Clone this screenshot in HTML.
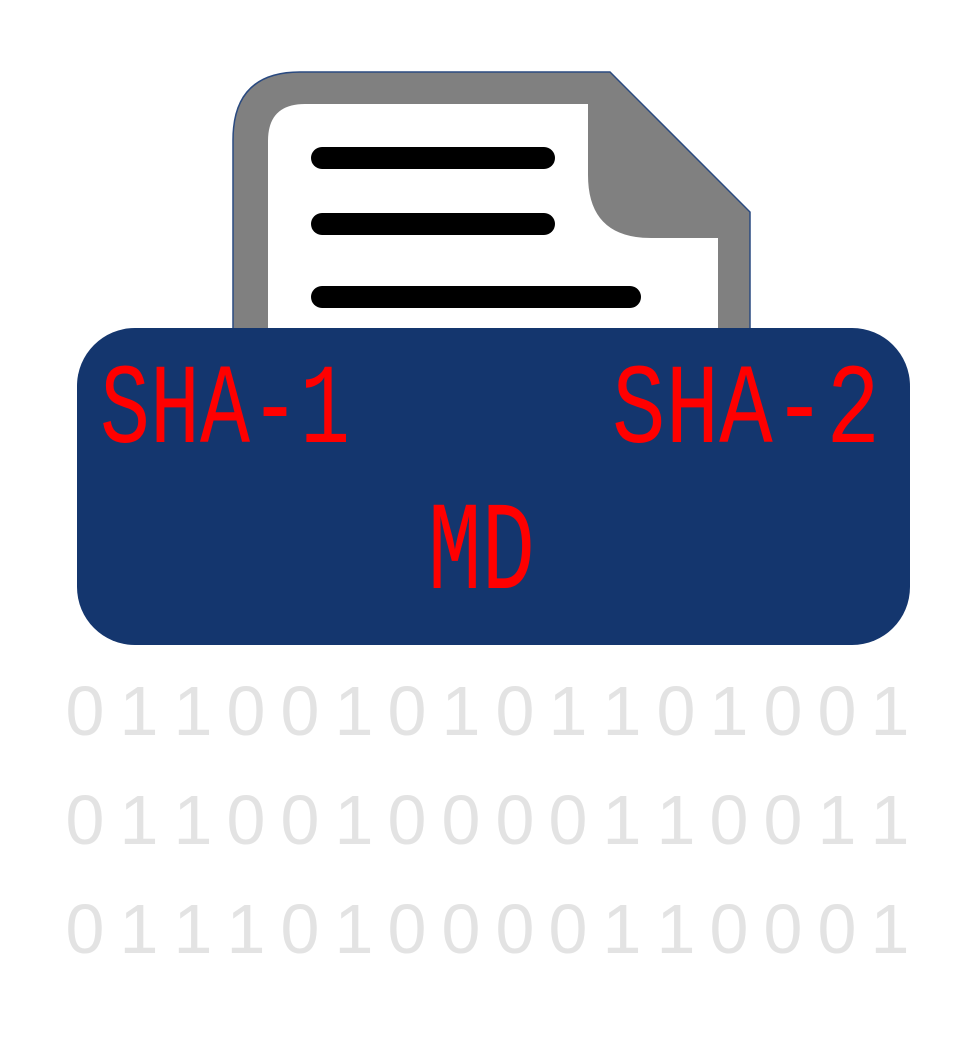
<!DOCTYPE html>
<html><head><meta charset="utf-8"><style>
html,body{margin:0;padding:0;background:#fff;}
svg{display:block;}
</style></head><body>
<svg width="980" height="1038" viewBox="0 0 980 1038" xmlns="http://www.w3.org/2000/svg">
<rect width="980" height="1038" fill="#fff"/>
<path d="M300 72 L610 72 L750 212 L750 340 L233 340 L233 140 Q233 72 300 72 Z" fill="#808080" stroke="#2a4a80" stroke-width="1.5"/>
<path d="M305 104 L588 104 L588 175 Q588 238 651 238 L718 238 L718 340 L268 340 L268 141 Q268 104 305 104 Z" fill="#fff"/>
<g stroke="#000" stroke-width="22" stroke-linecap="round">
<line x1="322" y1="158" x2="544" y2="158"/>
<line x1="322" y1="224" x2="544" y2="224"/>
<line x1="322" y1="297" x2="630" y2="297"/>
</g>
<rect x="77" y="328" width="833" height="317" rx="58" fill="#14366e"/>
<g font-family="Liberation Mono, monospace" fill="#ff0000" font-size="84">
<g transform="translate(0,442) scale(1,1.36)">
<text x="100" y="0" textLength="250" lengthAdjust="spacingAndGlyphs">SHA-1</text>
<text x="612" y="0" textLength="268" lengthAdjust="spacingAndGlyphs">SHA-2</text>
</g>
<g transform="translate(0,588) scale(1,1.5)">
<text x="428" y="0" textLength="107" lengthAdjust="spacingAndGlyphs">MD</text>
</g>
</g>
<g font-family="Liberation Sans, sans-serif" fill="#e3e3e3" font-size="70" text-anchor="middle">
<text y="735"><tspan x="85">0</tspan><tspan x="139">1</tspan><tspan x="193">1</tspan><tspan x="246">0</tspan><tspan x="300">0</tspan><tspan x="354">1</tspan><tspan x="407">0</tspan><tspan x="461">1</tspan><tspan x="515">0</tspan><tspan x="568">1</tspan><tspan x="622">1</tspan><tspan x="676">0</tspan><tspan x="729">1</tspan><tspan x="783">0</tspan><tspan x="837">0</tspan><tspan x="890">1</tspan></text>
<text y="844"><tspan x="85">0</tspan><tspan x="139">1</tspan><tspan x="193">1</tspan><tspan x="246">0</tspan><tspan x="300">0</tspan><tspan x="354">1</tspan><tspan x="407">0</tspan><tspan x="461">0</tspan><tspan x="515">0</tspan><tspan x="568">0</tspan><tspan x="622">1</tspan><tspan x="676">1</tspan><tspan x="729">0</tspan><tspan x="783">0</tspan><tspan x="837">1</tspan><tspan x="890">1</tspan></text>
<text y="953"><tspan x="85">0</tspan><tspan x="139">1</tspan><tspan x="193">1</tspan><tspan x="246">1</tspan><tspan x="300">0</tspan><tspan x="354">1</tspan><tspan x="407">0</tspan><tspan x="461">0</tspan><tspan x="515">0</tspan><tspan x="568">0</tspan><tspan x="622">1</tspan><tspan x="676">1</tspan><tspan x="729">0</tspan><tspan x="783">0</tspan><tspan x="837">0</tspan><tspan x="890">1</tspan></text>
</g>
</svg>
</body></html>
